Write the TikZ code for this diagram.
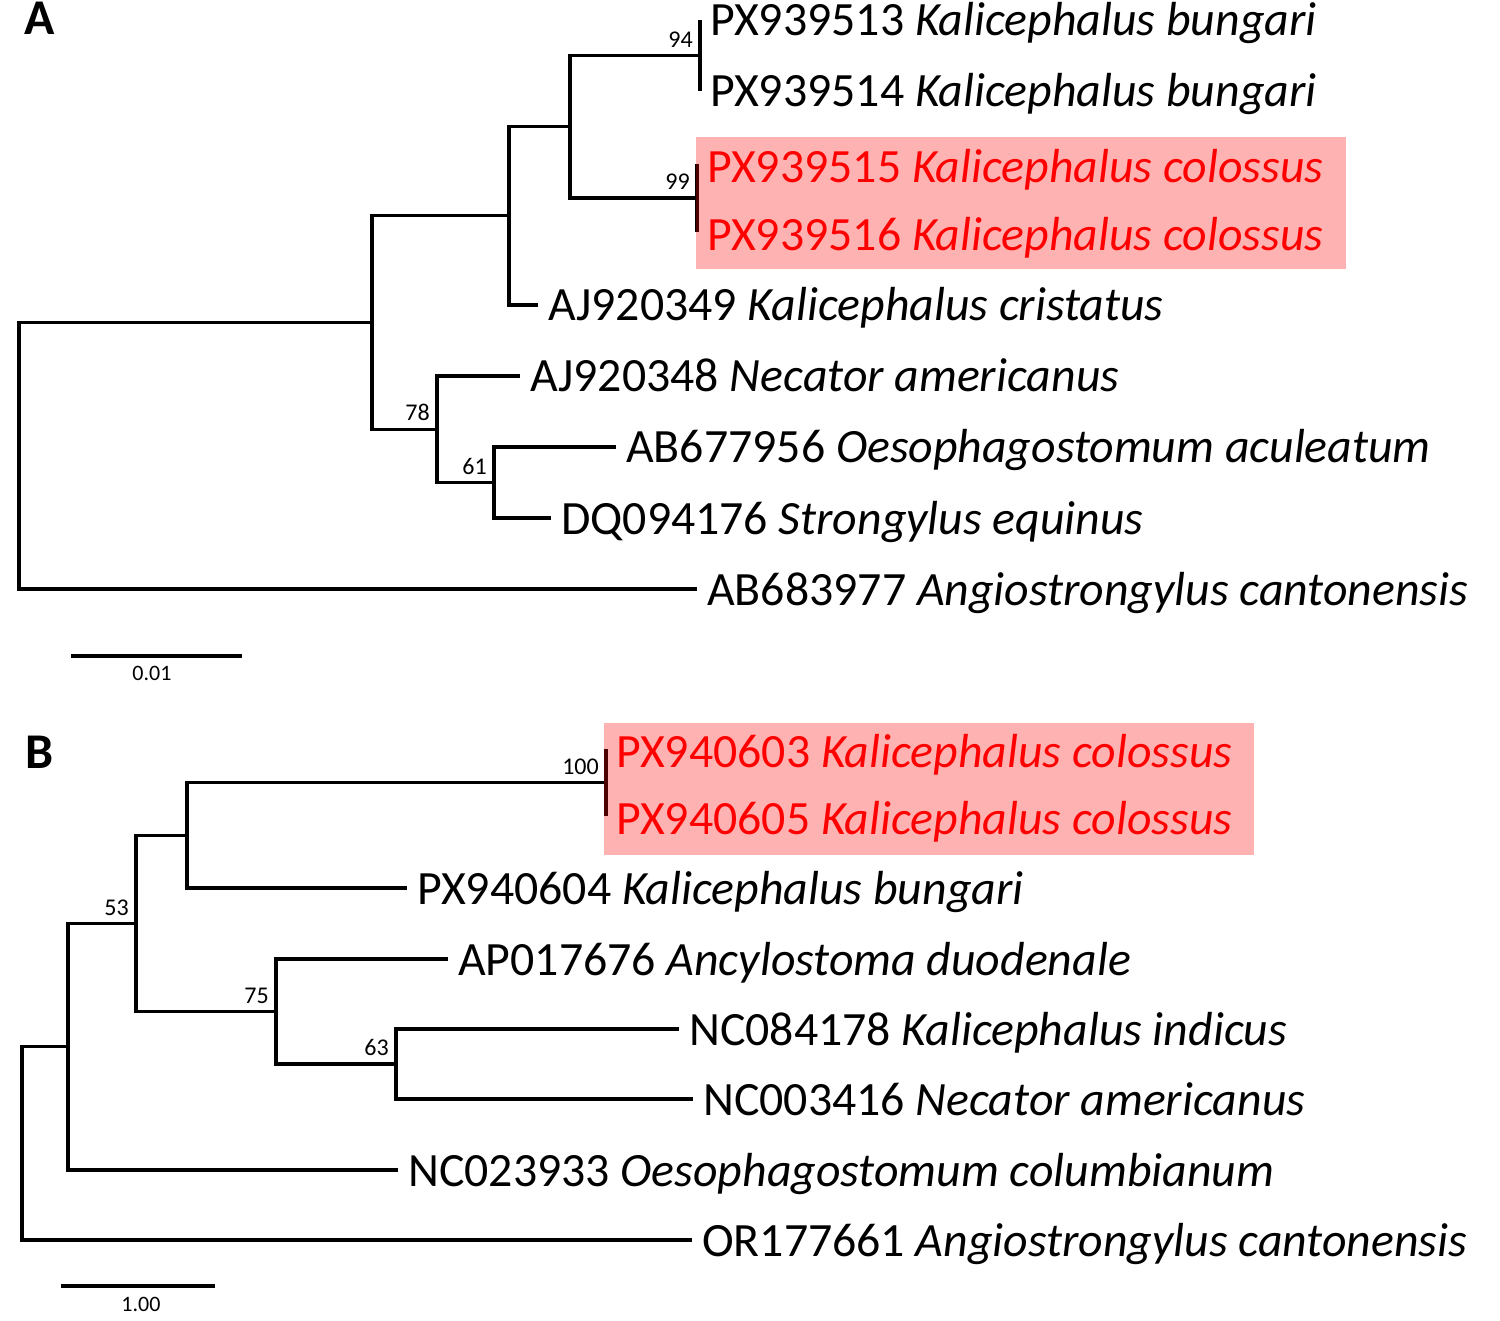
\documentclass[tikz,border=0pt]{standalone}
\usepackage{fontspec}
\setmainfont{Carlito}
\begin{document}
\begin{tikzpicture}[x=1pt,y=-1pt,
  br/.style={line width=3.2pt, line join=miter},
  lab/.style={anchor=base west, inner sep=0pt, xshift=10pt, yshift=-16pt, font=\fontsize{47.8}{52}\selectfont},
  redlab/.style={lab, text=red, yshift=-2.5pt},
  bs/.style={anchor=south east, inner sep=0pt, xshift=-7pt, yshift=8pt, font=\fontsize{24}{26}\selectfont},
  hilite/.style={fill=red, fill opacity=0.3, draw=none},
  panel/.style={anchor=base west, inner sep=0pt, font=\fontsize{50}{56}\selectfont\bfseries},
  sclab/.style={anchor=center, inner sep=0pt, font=\fontsize{22}{24}\selectfont}]
\useasboundingbox (0,0) rectangle (1500,1321);

% ---------------- Panel A ----------------
\coordinate (tA1) at (700,20);
\coordinate (tA2) at (700,91);
\coordinate (tA3) at (697,164);
\coordinate (tA4) at (697,232);
\coordinate (tA5) at (538,305);
\coordinate (tA6) at (520,376);
\coordinate (tA7) at (616,447);
\coordinate (tA8) at (551,518);
\coordinate (tA9) at (697,589);
\coordinate (n94) at (700,55.5);
\coordinate (n99) at (697,198);
\coordinate (nA3) at (570,126.75);
\coordinate (nA2) at (509,215.9);
\coordinate (n61) at (494,482.5);
\coordinate (n78) at (437,429.25);
\coordinate (nA1) at (372,322.6);
\coordinate (rA) at (19,455);

\draw[br] (tA1) -| (n94) |- (tA2);
\draw[br] (tA3) -| (n99) |- (tA4);
\draw[br] (n94) -| (nA3) |- (n99);
\draw[br] (nA3) -| (nA2) |- (tA5);
\draw[br] (tA7) -| (n61) |- (tA8);
\draw[br] (tA6) -| (n78) |- (n61);
\draw[br] (nA2) -| (nA1) |- (n78);
\draw[br] (nA1) -| (rA) |- (tA9);

\fill[hilite] (696,137) rectangle (1346,269);

\node[panel] (pA) at (24,35) {A};
\node[lab] (lA1) at (tA1) {PX939513 \textit{Kalicephalus bungari}};
\node[lab] (lA2) at (tA2) {PX939514 \textit{Kalicephalus bungari}};
\node[redlab] (lA3) at (tA3) {PX939515 \textit{Kalicephalus colossus}};
\node[redlab] (lA4) at (tA4) {PX939516 \textit{Kalicephalus colossus}};
\node[lab] (lA5) at (tA5) {AJ920349 \textit{Kalicephalus cristatus}};
\node[lab] (lA6) at (tA6) {AJ920348 \textit{Necator americanus}};
\node[lab] (lA7) at (tA7) {AB677956 \textit{Oesophagostomum aculeatum}};
\node[lab] (lA8) at (tA8) {DQ094176 \textit{Strongylus equinus}};
\node[lab] (lA9) at (tA9) {AB683977 \textit{Angiostrongylus cantonensis}};

\node[bs] (b94) at (n94) {94};
\node[bs] (b99) at (n99) {99};
\node[bs] (b78) at (n78) {78};
\node[bs] (b61) at (n61) {61};

\coordinate (sA1) at (71,656);
\coordinate (sA2) at (242,656);
\draw[br] (sA1) -- (sA2);
\node[sclab] (sAl) at (152,673) {0.01};

% ---------------- Panel B ----------------
\coordinate (tB1) at (606,749);
\coordinate (tB2) at (606,816);
\coordinate (tB3) at (407,888);
\coordinate (tB4) at (448,959);
\coordinate (tB5) at (679,1029);
\coordinate (tB6) at (693,1099);
\coordinate (tB7) at (398,1170);
\coordinate (tB8) at (692,1240);
\coordinate (n100) at (606,782.5);
\coordinate (nBk) at (187,835.25);
\coordinate (n63) at (396,1064);
\coordinate (n75) at (276,1011.5);
\coordinate (n53) at (136,923.4);
\coordinate (nB2) at (68,1046.7);
\coordinate (rB) at (22,1143.3);

\draw[br] (tB1) -| (n100) |- (tB2);
\draw[br] (n100) -| (nBk) |- (tB3);
\draw[br] (tB5) -| (n63) |- (tB6);
\draw[br] (tB4) -| (n75) |- (n63);
\draw[br] (nBk) -| (n53) |- (n75);
\draw[br] (n53) -| (nB2) |- (tB7);
\draw[br] (nB2) -| (rB) |- (tB8);

\fill[hilite] (604,723) rectangle (1254,855);

\node[panel] (pB) at (25,768) {B};
\node[redlab] (lB1) at (tB1) {PX940603 \textit{Kalicephalus colossus}};
\node[redlab] (lB2) at (tB2) {PX940605 \textit{Kalicephalus colossus}};
\node[lab] (lB3) at (tB3) {PX940604 \textit{Kalicephalus bungari}};
\node[lab] (lB4) at (tB4) {AP017676 \textit{Ancylostoma duodenale}};
\node[lab] (lB5) at (tB5) {NC084178 \textit{Kalicephalus indicus}};
\node[lab] (lB6) at (tB6) {NC003416 \textit{Necator americanus}};
\node[lab] (lB7) at (tB7) {NC023933 \textit{Oesophagostomum columbianum}};
\node[lab] (lB8) at (tB8) {OR177661 \textit{Angiostrongylus cantonensis}};

\node[bs] (b100) at (n100) {100};
\node[bs] (b53) at (n53) {53};
\node[bs] (b75) at (n75) {75};
\node[bs] (b63) at (n63) {63};

\coordinate (sB1) at (61,1286);
\coordinate (sB2) at (215,1286);
\draw[br] (sB1) -- (sB2);
\node[sclab] (sBl) at (141,1304) {1.00};
\end{tikzpicture}
\end{document}
